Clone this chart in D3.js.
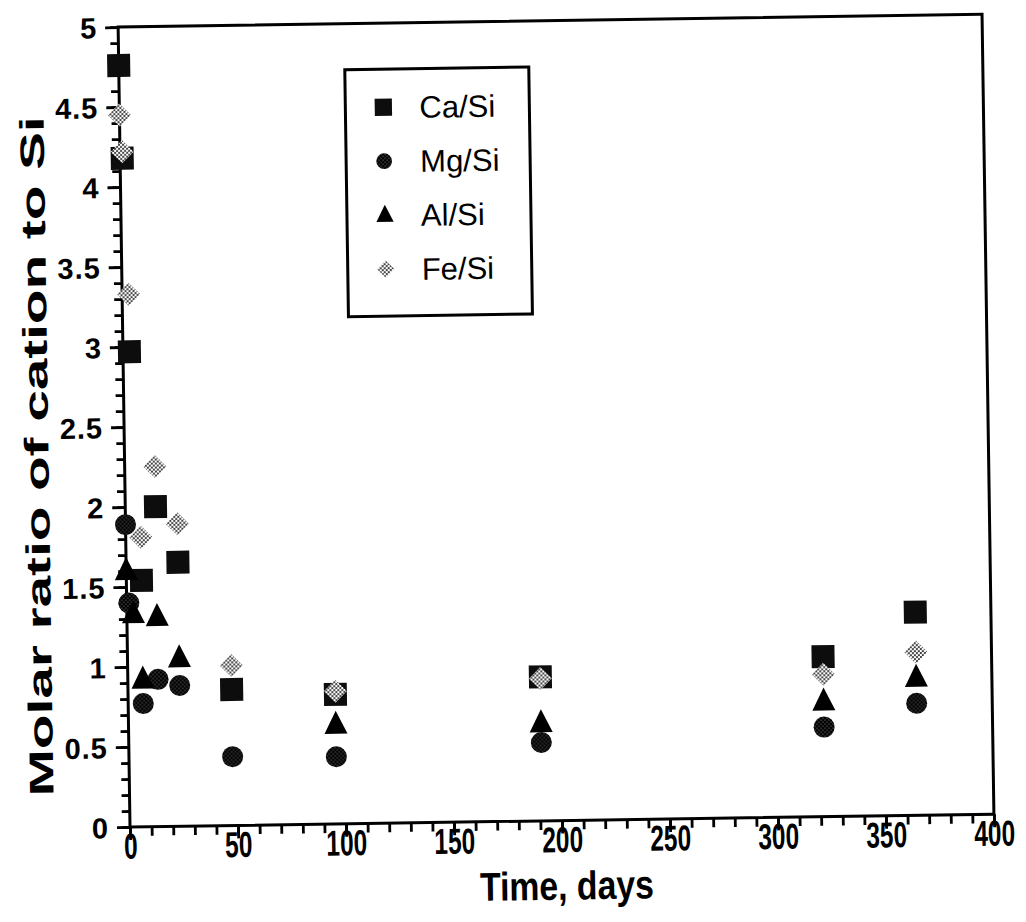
<!DOCTYPE html>
<html lang="en">
<head>
    <meta charset="UTF-8">
    <title>Molar ratio of cation to Si</title>
    <script src="https://cdnjs.cloudflare.com/ajax/libs/d3/7.8.5/d3.min.js"></script>
    <style>
        body {
            margin: 0;
            background: #fff;
        }
        svg {
            display: block;
            font-family: 'Liberation Sans', Arial, Helvetica, sans-serif;
        }
        .tick text {
            fill: #000;
        }
        .y-major .tick text {
            font-size: 29px;
            font-weight: bold;
            letter-spacing: 1px;
        }
        .x-major .tick text {
            font-size: 36px;
            font-weight: bold;
        }
        .tick line {
            stroke: #000;
            stroke-width: 2.8;
        }
        .axis-title {
            font-weight: bold;
            fill: #000;
        }
        .legend-label {
            font-size: 31px;
            fill: #000;
        }
    </style>
</head>
<body>
    <svg id="chart" width="1026" height="922"></svg>

    <script>
        // series (days, molar ratio)
        const caDays = [0, 1, 3, 7, 14, 24, 48, 96, 191, 322, 365];
        const caVals = [4.76, 4.18, 2.97, 1.54, 2.0, 1.65, 0.85, 0.81, 0.90, 1.0, 1.27];

        const mgDays = [0, 1, 7, 14, 24, 48, 96, 191, 322, 365];
        const mgVals = [1.89, 1.40, 0.77, 0.92, 0.88, 0.43, 0.42, 0.49, 0.56, 0.70];

        const alDays = [0, 3, 7, 14, 24, 96, 191, 322, 365];
        const alVals = [1.60, 1.33, 0.92, 1.31, 1.05, 0.62, 0.61, 0.72, 0.86];

        const feDays = [0, 1, 3, 7, 14, 24, 48, 96, 191, 322, 365];
        const feVals = [4.45, 4.22, 3.33, 1.81, 2.25, 1.89, 1.0, 0.83, 0.89, 0.89, 1.02];

        const seriesNames = ['Ca/Si', 'Mg/Si', 'Al/Si', 'Fe/Si'];

        const xTicks = [0, 50, 100, 150, 200, 250, 300, 350, 400];
        const xTickLabels = ['0', '50', '100', '150', '200', '250', '300', '350', '400'];
        const yTicks = [0, 0.5, 1, 1.5, 2, 2.5, 3, 3.5, 4, 4.5, 5];
        const yTickLabels = ['0', '0.5', '1', '1.5', '2', '2.5', '3', '3.5', '4', '4.5', '5'];

        const svg = d3.select('#chart');

        const x0 = 130, x1 = 994, y0 = 827, y1 = 27;
        const x = d3.scaleLinear().domain([0, 400]).range([x0, x1]);
        const y = d3.scaleLinear().domain([0, 5]).range([y0, y1]);

        // patterns for the stippled markers
        const defs = svg.append('defs');
        const fePat = defs.append('pattern')
            .attr('id', 'fePat')
            .attr('width', 4).attr('height', 4)
            .attr('patternUnits', 'userSpaceOnUse');
        fePat.append('rect').attr('width', 4).attr('height', 4).attr('fill', '#fff');
        fePat.append('circle').attr('cx', 1).attr('cy', 1).attr('r', 1.1).attr('fill', '#333');
        fePat.append('circle').attr('cx', 3).attr('cy', 3).attr('r', 1.1).attr('fill', '#333');

        const mgPat = defs.append('pattern')
            .attr('id', 'mgPat')
            .attr('width', 4).attr('height', 4)
            .attr('patternUnits', 'userSpaceOnUse');
        mgPat.append('rect').attr('width', 4).attr('height', 4).attr('fill', '#000');
        mgPat.append('circle').attr('cx', 1).attr('cy', 1).attr('r', 0.6).attr('fill', '#aaa');
        mgPat.append('circle').attr('cx', 3).attr('cy', 3).attr('r', 0.6).attr('fill', '#aaa');

        // marker shapes, s = scale
        const shapes = {
            'Ca/Si': s => `M${-11.5 * s},${-11.5 * s}h${23 * s}v${23 * s}h${-23 * s}Z`,
            'Mg/Si': s => `M${-10.5 * s},0a${10.5 * s},${10.5 * s} 0 1,0 ${21 * s},0a${10.5 * s},${10.5 * s} 0 1,0 ${-21 * s},0Z`,
            'Al/Si': s => `M0,${-14 * s}L${11.5 * s},${9 * s}L${-11.5 * s},${9 * s}Z`,
            'Fe/Si': s => `M0,${-11.5 * s}L${11.5 * s},0L0,${11.5 * s}L${-11.5 * s},0Z`
        };
        const fills = {
            'Ca/Si': '#0d0d0d',
            'Mg/Si': 'url(#mgPat)',
            'Al/Si': '#000',
            'Fe/Si': 'url(#fePat)'
        };

        // the scanned figure is tilted slightly
        const g = svg.append('g')
            .attr('transform', `rotate(-0.85, ${x0}, ${y0})`);

        // minor ticks
        g.append('g')
            .attr('transform', `translate(${x0},0)`)
            .call(d3.axisLeft(y).tickValues(d3.range(0, 51).map(d => d / 10)).tickSize(8).tickFormat(''))
            .call(a => a.select('.domain').remove());
        g.append('g')
            .attr('transform', `translate(0,${y0})`)
            .call(d3.axisBottom(x).tickValues(d3.range(0, 41).map(d => d * 10)).tickSize(9).tickFormat(''))
            .call(a => a.select('.domain').remove());

        // major ticks with labels
        g.append('g')
            .attr('class', 'y-major')
            .attr('transform', `translate(${x0},0)`)
            .call(d3.axisLeft(y).tickValues(yTicks).tickSize(13).tickPadding(8)
                .tickFormat((d, i) => yTickLabels[i]))
            .call(a => a.select('.domain').remove())
            .selectAll('text').attr('dy', '0.36em');
        g.append('g')
            .attr('class', 'x-major')
            .attr('transform', `translate(0,${y0})`)
            .call(d3.axisBottom(x).tickValues(xTicks).tickSize(13)
                .tickFormat((d, i) => xTickLabels[i]))
            .call(a => a.select('.domain').remove())
            .selectAll('text')
            .attr('y', 6)
            .attr('transform', 'scale(0.68,1)');

        // frame
        g.append('rect')
            .attr('x', x0).attr('y', y1)
            .attr('width', x1 - x0).attr('height', y0 - y1)
            .attr('fill', 'none')
            .attr('stroke', '#000')
            .attr('stroke-width', 3);

        // axis titles
        g.append('text')
            .attr('class', 'axis-title')
            .attr('x', 566).attr('y', 906)
            .attr('text-anchor', 'middle')
            .attr('font-size', 40)
            .attr('textLength', 174)
            .attr('lengthAdjust', 'spacingAndGlyphs')
            .text('Time, days');

        g.append('text')
            .attr('class', 'axis-title')
            .attr('transform', `translate(54,455) rotate(-90)`)
            .attr('text-anchor', 'middle')
            .attr('font-size', 34)
            .attr('textLength', 680)
            .attr('lengthAdjust', 'spacingAndGlyphs')
            .text('Molar ratio of cation to Si');

        // data points
        const series = [
            { name: 'Ca/Si', days: caDays, vals: caVals },
            { name: 'Mg/Si', days: mgDays, vals: mgVals },
            { name: 'Al/Si', days: alDays, vals: alVals },
            { name: 'Fe/Si', days: feDays, vals: feVals }
        ];

        series.forEach(s => {
            g.append('g')
                .selectAll('path')
                .data(s.days.map((d, i) => [d, s.vals[i]]))
                .join('path')
                .attr('transform', d => `translate(${x(d[0])},${y(d[1])})`)
                .attr('d', shapes[s.name](1))
                .attr('fill', fills[s.name]);
        });

        // legend
        const legend = g.append('g').attr('transform', 'translate(356,73)');
        legend.append('rect')
            .attr('width', 184).attr('height', 247)
            .attr('fill', '#fff')
            .attr('stroke', '#000')
            .attr('stroke-width', 3);

        seriesNames.forEach((name, i) => {
            const row = legend.append('g')
                .attr('transform', `translate(38,${38 + i * 54})`);
            row.append('path')
                .attr('d', shapes[name](0.75))
                .attr('fill', fills[name]);
            row.append('text')
                .attr('class', 'legend-label')
                .attr('x', 36)
                .attr('dy', '0.36em')
                .text(name);
        });
    </script>
</body>
</html>
